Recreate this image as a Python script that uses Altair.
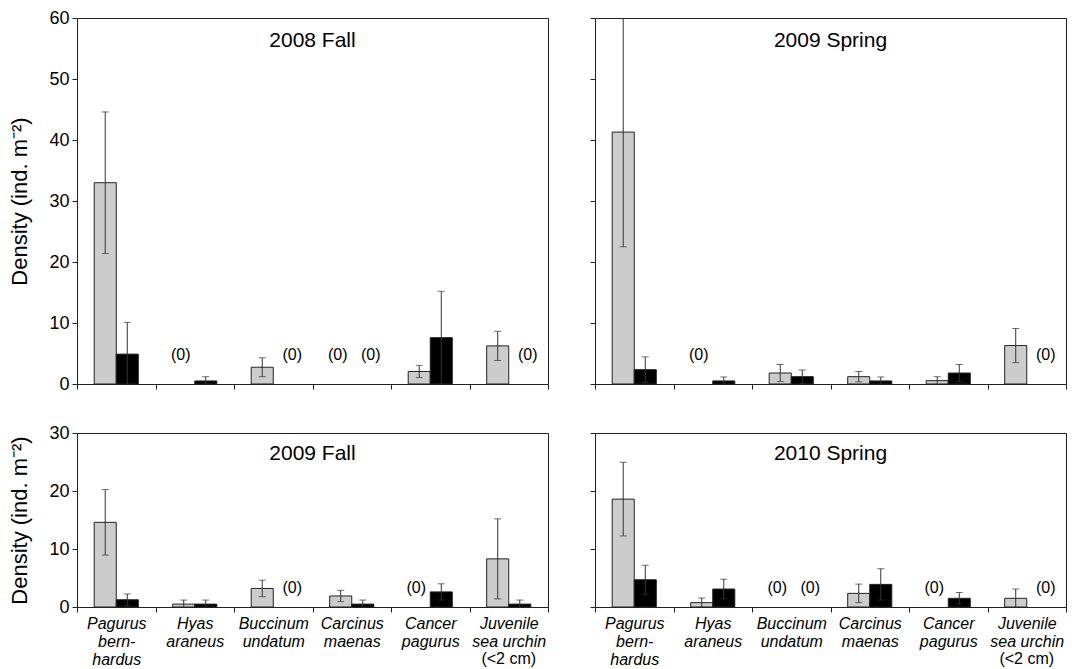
import altair as alt
import pandas as pd

# ---------------- data ----------------
species = ["Pagurus bernhardus", "Hyas araneus", "Buccinum undatum",
           "Carcinus maenas", "Cancer pagurus", "Juvenile sea urchin (<2 cm)"]
species_label_lines = [["Pagurus", "bern-", "hardus"], ["Hyas", "araneus"],
                       ["Buccinum", "undatum"], ["Carcinus", "maenas"],
                       ["Cancer", "pagurus"], ["Juvenile", "sea urchin"]]
size_note = "(<2 cm)"
groups = ["grey", "black"]
group_colors = ["#cccccc", "#000000"]

panel_titles = ["2008 Fall", "2009 Spring", "2009 Fall", "2010 Spring"]
y_title = "Density (ind. m\u207b\u00b2)"
y_ticks_top = [0, 10, 20, 30, 40, 50, 60]
y_ticks_bottom = [0, 10, 20, 30]

fall2008_grey = [33.0, 0, 2.75, 0, 2.05, 6.25]
fall2008_grey_se = [11.6, 0, 1.55, 0, 1.0, 2.4]
fall2008_black = [4.9, 0.5, 0, 0, 7.6, 0]
fall2008_black_se = [5.2, 0.7, 0, 0, 7.6, 0]

spring2009_grey = [41.3, 0, 1.8, 1.2, 0.55, 6.3]
spring2009_grey_se = [18.8, 0, 1.4, 0.85, 0.65, 2.8]
spring2009_black = [2.35, 0.5, 1.2, 0.5, 1.8, 0]
spring2009_black_se = [2.1, 0.65, 1.1, 0.65, 1.4, 0]

fall2009_grey = [14.6, 0.5, 3.2, 1.9, 0, 8.3]
fall2009_grey_se = [5.65, 0.7, 1.43, 0.97, 0, 6.9]
fall2009_black = [1.25, 0.5, 0, 0.5, 2.6, 0.5]
fall2009_black_se = [1.0, 0.7, 0, 0.7, 1.4, 0.7]

spring2010_grey = [18.6, 0.75, 0, 2.35, 0, 1.5]
spring2010_grey_se = [6.35, 0.8, 0, 1.6, 0, 1.6]
spring2010_black = [4.7, 3.1, 0, 3.9, 1.5, 0]
spring2010_black_se = [2.5, 1.7, 0, 2.7, 1.0, 0]

# ---------------- styling ----------------
FONT = "Liberation Sans"
W = 471
H_TOP = 366
H_BOT = 174
X_LABEL_PAD = 3
X_LINE_H = 18
X_FONT = 16


def make_df(gm, gse, bm, bse):
    rows = []
    for i, s in enumerate(species):
        for g, m, e in (("grey", gm[i], gse[i]), ("black", bm[i], bse[i])):
            rows.append({"species": s, "group": g, "mean": m, "se": e,
                         "lo": m - e, "hi": m + e,
                         "zero": "(0)" if m == 0 else ""})
    return pd.DataFrame(rows)


lines_js = "[" + ",".join("[" + ",".join("'%s'" % l for l in ls) + "]"
                          for ls in species_label_lines) + "]"
species_js = "[" + ",".join("'%s'" % s for s in species) + "]"
label_expr = "%s[indexof(%s, datum.value)]" % (lines_js, species_js)


def panel(title, df, ymax, yticks, h, left, bottom, zero_dy, title_y):
    x_axis = alt.Axis(title=None, labels=bottom, tickBand="extent", tickSize=5,
                      labelExpr=label_expr, labelAngle=0, labelFontStyle="italic",
                      labelFontSize=X_FONT, labelPadding=X_LABEL_PAD,
                      labelLineHeight=X_LINE_H, labelBaseline="top",
                      labelOverlap=False, labelLimit=0)
    x = alt.X("species:N", sort=species,
              scale=alt.Scale(domain=species, paddingInner=0, paddingOuter=0),
              axis=x_axis)
    xo = alt.XOffset("group:N", sort=groups,
                     scale=alt.Scale(domain=groups, paddingInner=0, paddingOuter=0.78))
    y_axis = alt.Axis(values=yticks, title=y_title if left else None,
                      labels=left, grid=False, tickSize=5, labelFontSize=18,
                      labelPadding=3, titleFontSize=22, titlePadding=17,
                      titleFontWeight="normal")
    yscale = alt.Scale(domain=[0, ymax], nice=False)

    def Y(field):
        return alt.Y(field, scale=yscale, axis=y_axis)

    base = alt.Chart(df)
    nz = base.transform_filter("datum.mean > 0")
    bars = nz.mark_bar(stroke="#222", strokeWidth=1).encode(
        x=x, xOffset=xo, y=Y("mean:Q"),
        color=alt.Color("group:N", scale=alt.Scale(domain=groups, range=group_colors),
                        legend=None))
    err = nz.mark_rule(color="#333", strokeWidth=1, clip=True).encode(
        x=x, xOffset=xo, y=Y("lo:Q"), y2="hi:Q")
    cap_hi = nz.mark_tick(color="#333", thickness=1, size=7, clip=True).encode(
        x=x, xOffset=xo, y=Y("hi:Q"))
    cap_lo = nz.mark_tick(color="#333", thickness=1, size=7, clip=True).encode(
        x=x, xOffset=xo, y=Y("lo:Q"))
    zeros = base.transform_filter("datum.mean == 0")
    z_grey = zeros.transform_filter("datum.group == 'grey'").mark_text(
        dx=-3, dy=-zero_dy, fontSize=16, font=FONT, color="black").encode(
        x=x, xOffset=xo, y=Y("mean:Q"), text="zero:N")
    z_black = zeros.transform_filter("datum.group == 'black'").mark_text(
        dx=8, dy=-zero_dy, fontSize=16, font=FONT, color="black").encode(
        x=x, xOffset=xo, y=Y("mean:Q"), text="zero:N")
    ttl = alt.Chart(pd.DataFrame({"t": [title]})).mark_text(
        fontSize=21, font=FONT, baseline="alphabetic", color="black").encode(
        text="t:N", x=alt.value(W / 2), y=alt.value(title_y))
    layers = [bars, err, cap_hi, cap_lo, z_grey, z_black, ttl]
    if bottom:
        note = alt.Chart(pd.DataFrame({"species": [species[-1]], "note": [size_note]})).mark_text(
            fontSize=X_FONT, font=FONT, baseline="top", color="black").encode(
            x=x, y=alt.value(h + 5 + X_LABEL_PAD + 2 * X_LINE_H), text="note:N")
        layers.append(note)
    return alt.layer(*layers).properties(width=W, height=h)


p1 = panel(panel_titles[0], make_df(fall2008_grey, fall2008_grey_se, fall2008_black, fall2008_black_se),
           60, y_ticks_top, H_TOP, True, False, 29, 29)
p2 = panel(panel_titles[1], make_df(spring2009_grey, spring2009_grey_se, spring2009_black, spring2009_black_se),
           60, y_ticks_top, H_TOP, False, False, 29, 29)
p3 = panel(panel_titles[2], make_df(fall2009_grey, fall2009_grey_se, fall2009_black, fall2009_black_se),
           30, y_ticks_bottom, H_BOT, True, True, 19, 27)
p4 = panel(panel_titles[3], make_df(spring2010_grey, spring2010_grey_se, spring2010_black, spring2010_black_se),
           30, y_ticks_bottom, H_BOT, False, True, 19, 27)

chart = alt.concat(p1, p2, p3, p4, columns=2,
                   spacing={"row": 29, "column": 40}).properties(
    padding=0, background="white"
).configure_view(
    stroke="#222", strokeWidth=1
).configure_axis(
    domainColor="#222", tickColor="#222", labelColor="black", titleColor="black",
    labelFont=FONT, titleFont=FONT, titleFontWeight="normal"
)

chart.save("out.html", embed_options={"renderer": "svg", "actions": False})
